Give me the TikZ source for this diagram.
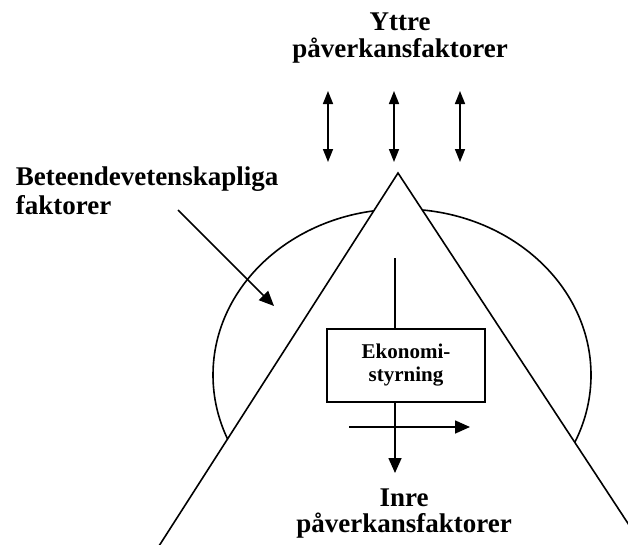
\documentclass[tikz,border=0pt]{standalone}
\usepackage{fontspec}
\setmainfont{Liberation Serif}
\usetikzlibrary{arrows.meta}
\begin{document}
\begin{tikzpicture}[x=1pt,y=-1pt, line width=1.6pt,
  lbl/.style={font=\bfseries\fontsize{27}{28}\selectfont, inner sep=0pt, anchor=base},
  lbll/.style={lbl, anchor=base west},
  boxnode/.style={draw, line width=1.6pt, minimum width=158pt, minimum height=73pt, inner sep=0pt,
    align=center, font=\bfseries\fontsize{21}{23}\selectfont},
  bigarrow/.style={-{Triangle[length=15pt,width=13pt]}},
  dblarrow/.style={{Triangle[length=13pt,width=10pt]}-{Triangle[length=13pt,width=10pt]}}]
\useasboundingbox (0,0) rectangle (628,544);
\clip (0,0) rectangle (628,544);
% ellipse and triangle
\draw (402,375) ellipse [x radius=189, y radius=166];
\draw[fill=white, line join=miter] (150,560) -- (398,173) -- (652,560);
% labels
\node[lbl] (yt1) at (400,30) {Yttre};
\node[lbl] (yt2) at (400,57) {påverkansfaktorer};
\node[lbl] (in1) at (404,506) {Inre};
\node[lbl] (in2) at (404,532) {påverkansfaktorer};
\node[lbll] (be1) at (15,185) {Beteendevetenskapliga};
\node[lbll] (be2) at (15,214) {faktorer};
% box
\node[boxnode] (box) at (406,365.5) {Ekonomi-\\styrning};
% coordinates
\coordinate (vtop) at (395,258);
\coordinate (vbot) at (395,473);
\coordinate (hl) at (349,427);
\coordinate (hr) at (470,427);
\coordinate (a1t) at (328,91); \coordinate (a1b) at (328,162);
\coordinate (a2t) at (394,91); \coordinate (a2b) at (394,162);
\coordinate (a3t) at (460,91); \coordinate (a3b) at (460,162);
\coordinate (ds) at (178,210);
\coordinate (de) at (274,306);
% connectors
\draw (vtop) -- (vtop |- box.north);
\draw[bigarrow] (vtop |- box.south) -- (vbot);
\draw[bigarrow] (hl) -- (hr);
\draw[dblarrow] (a1t) -- (a1b);
\draw[dblarrow] (a2t) -- (a2b);
\draw[dblarrow] (a3t) -- (a3b);
\draw[bigarrow] (ds) -- (de);
\end{tikzpicture}
\end{document}
